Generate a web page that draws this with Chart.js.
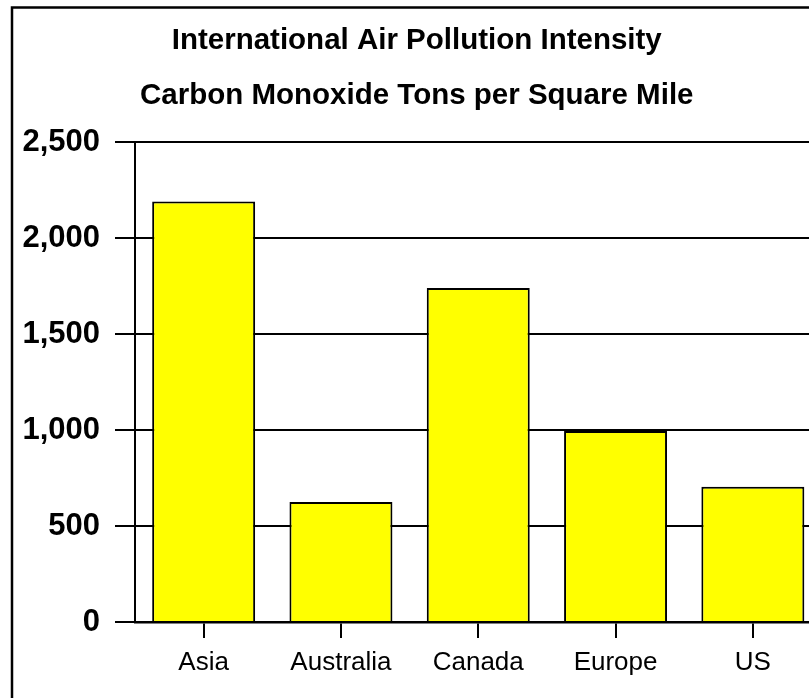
<!DOCTYPE html>
<html>
<head>
<meta charset="utf-8">
<script src="https://cdn.jsdelivr.net/npm/chart.js@4"></script>
<style>
  html, body { margin: 0; padding: 0; background: #fff; overflow: hidden; }
  #wrap { position: absolute; left: 0; top: 0; width: 840px; height: 720px; }
</style>
</head>
<body>
<div id="wrap"><canvas id="chart" width="840" height="720"></canvas></div>
<script>
// Carbon monoxide emissions per square mile, by region
const titleLines = ['International Air Pollution Intensity', 'Carbon Monoxide Tons per Square Mile'];
const regions = ['Asia', 'Australia', 'Canada', 'Europe', 'US'];
const tonsPerSqMile = [2190, 625, 1740, 995, 705];
const yTicks = [0, 500, 1000, 1500, 2000, 2500];

// Thin black frame around the whole figure
const framePlugin = {
  id: 'frame',
  afterDraw(chart) {
    const ctx = chart.ctx;
    ctx.save();
    ctx.strokeStyle = '#000';
    ctx.lineWidth = 2.5;
    ctx.strokeRect(12, 7.5, 822, 706);
    ctx.restore();
  }
};

new Chart(document.getElementById('chart'), {
  type: 'bar',
  data: {
    labels: regions,
    datasets: [{
      data: tonsPerSqMile,
      backgroundColor: '#FFFF00',
      borderColor: '#000',
      borderWidth: 2,
      barPercentage: 0.75,
      categoryPercentage: 1
    }]
  },
  options: {
    responsive: false,
    animation: false,
    devicePixelRatio: 1,
    layout: { padding: { left: 12, right: 18.5, top: 0, bottom: 32.8 } },
    plugins: {
      legend: { display: false },
      tooltip: { enabled: false },
      title: {
        display: true,
        text: titleLines,
        color: '#000',
        font: { family: '"Liberation Sans", Arial, sans-serif', size: 29.5, weight: 'bold', lineHeight: '55px' },
        padding: { top: 13.5, bottom: 18.5 }
      }
    },
    scales: {
      x: {
        grid: {
          display: true,
          drawOnChartArea: false,
          drawTicks: true,
          tickLength: 16,
          offset: false,
          color: '#000',
          lineWidth: 2
        },
        border: { display: true, color: '#000', width: 2.5 },
        ticks: {
          color: '#000',
          padding: 9,
          font: { family: '"Liberation Sans", Arial, sans-serif', size: 26 }
        }
      },
      y: {
        min: 0,
        max: 2500,
        afterBuildTicks(scale) {
          scale.ticks = yTicks.map(v => ({ value: v }));
        },
        afterFit(scale) {
          scale.width = 123;
        },
        grid: {
          color: '#000',
          lineWidth: 2,
          tickLength: 20
        },
        border: { display: true, color: '#000', width: 2 },
        ticks: {
          color: '#000',
          padding: 15,
          font: { family: '"Liberation Sans", Arial, sans-serif', size: 31, weight: 'bold' },
          callback: v => v.toLocaleString('en-US')
        }
      }
    }
  },
  plugins: [framePlugin]
});
</script>
</body>
</html>
